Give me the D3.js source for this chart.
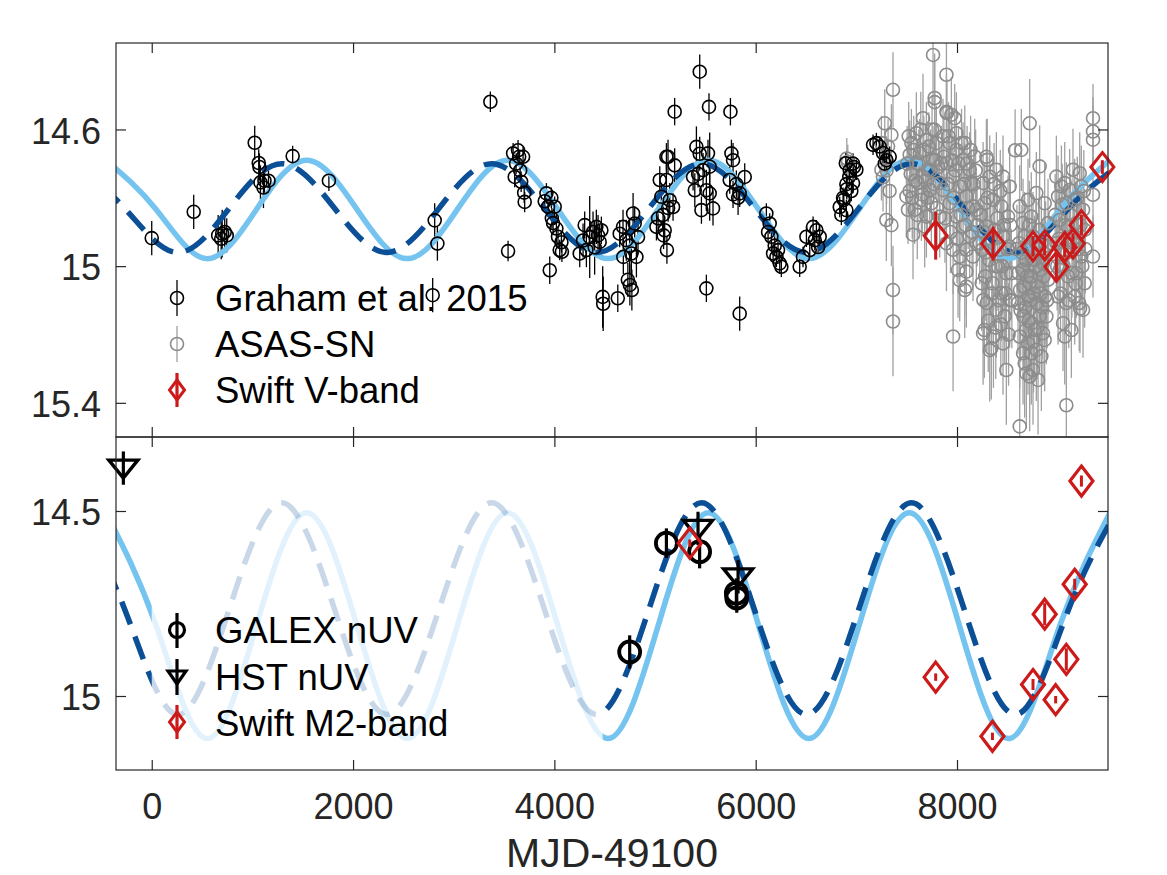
<!DOCTYPE html>
<html>
<head>
<meta charset="utf-8">
<script src="https://cdn.jsdelivr.net/npm/d3@7"></script>
<style>
body { margin: 0; background: #fff; }
text { font-family: "Liberation Sans", Arial, Helvetica, sans-serif; }
</style>
</head>
<body>
<svg id="chart" width="1167" height="875"></svg>
<script>
// ---- data: [MJD-49100, mag, err] ----
var graham = [
 [0,14.918,0.05],[417,14.841,0.05],[660,14.91,0.06],[690,14.92,0.06],[700,14.905,0.07],[725,14.90,0.06],[745,14.91,0.05],
 [1023,14.639,0.05],[1063,14.698,0.04],[1070,14.71,0.04],[1080,14.755,0.05],[1110,14.77,0.06],[1120,14.75,0.04],[1160,14.75,0.03],
 [1400,14.678,0.03],[1760,14.75,0.03],
 [2791,15.085,0.05],[2811,14.866,0.05],[2838,14.934,0.05],
 [3364,14.519,0.03],[3540,14.956,0.03],
 [3590,14.67,0.03],[3606,14.739,0.03],[3620,14.70,0.03],[3639,14.661,0.03],[3650,14.68,0.02],[3660,14.72,0.03],[3670,14.753,0.03],[3689,14.68,0.03],[3700,14.785,0.03],[3705,14.812,0.03],
 [3904,14.81,0.03],[3921,14.787,0.03],[3937,14.826,0.03],[3954,15.012,0.04],[3970,14.80,0.03],[3975,14.86,0.03],[3987,14.874,0.03],[4003,14.826,0.03],[4020,14.89,0.04],[4036,14.914,0.03],[4053,14.953,0.03],[4070,14.93,0.03],[4075,14.958,0.03],
 [4252,14.963,0.04],[4285,14.925,0.05],[4301,14.88,0.04],[4318,14.953,0.05],[4351,14.915,0.12],[4384,14.90,0.06],[4400,14.945,0.08],[4417,14.885,0.05],[4434,14.91,0.06],[4450,14.929,0.05],[4467,14.895,0.04],
 [4480,15.09,0.09],[4485,15.11,0.08],[4630,15.094,0.04],
 [4649,14.905,0.04],[4682,14.885,0.05],[4685,14.973,0.05],[4715,14.924,0.06],[4730,15.04,0.05],[4748,14.94,0.08],[4750,15.055,0.06],[4765,14.963,0.07],[4770,15.07,0.06],[4782,14.846,0.06],[4798,14.875,0.05],[4815,14.973,0.06],[4831,14.915,0.05],
 [5014,14.885,0.04],[5030,14.86,0.04],[5047,14.748,0.04],[5063,14.797,0.04],[5080,14.85,0.05],[5085,14.91,0.04],[5096,14.895,0.04],[5113,14.68,0.04],[5113,14.748,0.05],[5118,14.953,0.04],[5129,14.68,0.05],[5130,14.83,0.04],[5146,14.807,0.05],[5179,14.827,0.04],[5195,14.705,0.05],[5195,14.548,0.04],
 [5378,14.739,0.04],[5395,14.778,0.05],[5411,14.651,0.06],[5428,14.73,0.04],[5444,14.431,0.05],[5444,14.671,0.05],[5461,14.836,0.04],[5477,14.719,0.05],[5510,14.778,0.06],[5510,15.065,0.04],[5526,14.67,0.04],[5536,14.534,0.04],[5543,14.709,0.1],[5543,14.787,0.08],[5576,14.831,0.05],
 [5742,14.748,0.04],[5749,14.548,0.04],[5759,14.67,0.04],[5775,14.69,0.05],[5775,14.79,0.04],[5808,14.76,0.04],[5825,14.80,0.05],[5841,14.787,0.04],[5841,15.139,0.05],[5891,14.739,0.04],
 [6106,14.846,0.03],[6123,14.90,0.03],[6139,14.875,0.03],[6156,14.914,0.03],[6173,14.963,0.03],[6189,14.94,0.03],[6206,14.973,0.03],[6222,14.953,0.03],[6239,14.992,0.03],[6255,15.002,0.03],
 [6437,15.002,0.03],[6470,14.973,0.03],[6504,14.914,0.03],[6537,14.953,0.03],[6570,14.885,0.03],[6587,14.924,0.03],[6603,14.895,0.03],[6620,14.944,0.03],[6636,14.914,0.03],
 [6835,14.827,0.03],[6851,14.85,0.03],[6868,14.80,0.03],[6875,14.806,0.03],[6901,14.76,0.03],[6895,14.699,0.03],[6905,14.775,0.03],[6901,14.836,0.03],[6934,14.719,0.03],[6930,14.738,0.03],[6950,14.78,0.03],[6967,14.70,0.03],[6975,14.71,0.03],[6967,14.757,0.03],[7000,14.718,0.03],
 [7166,14.645,0.03],[7199,14.64,0.03],[7232,14.65,0.03],[7265,14.669,0.03],[7282,14.70,0.03],[7299,14.69,0.03],[7331,14.68,0.03]
];

var asassn = [
 [6905,14.685,0.06],[6915,14.695,0.05],
 [7249,14.64,0.08],[7249,14.718,0.09],[7265,14.74,0.1],[7282,14.582,0.1],[7298,14.865,0.12],[7315,14.65,0.08],[7348,14.616,0.09],[7348,14.88,0.12],[7364,14.484,0.11],[7364,15.07,0.13],[7364,15.162,0.16],[7300,14.72,0.1],[7330,14.78,0.1],
 [7497,14.796,0.12],[7513,14.835,0.1],[7530,14.674,0.1],[7530,14.78,0.12],[7547,14.64,0.1],[7563,14.908,0.13],[7579,14.835,0.1],[7596,14.611,0.12],[7596,14.699,0.1],[7612,14.757,0.11],[7629,14.669,0.1],[7646,14.806,0.12],[7662,14.567,0.13],[7662,14.738,0.1],[7679,14.884,0.12],[7696,14.63,0.11],[7696,14.855,0.12],[7712,14.718,0.1],[7729,14.777,0.11],[7745,14.816,0.12],[7762,14.382,0.15],[7762,14.689,0.1],[7778,14.508,0.13],[7778,14.52,0.12],[7778,14.601,0.1],[7795,14.64,0.11],[7828,14.757,0.12],
 [7505,14.70,0.11],[7520,14.62,0.1],[7540,14.73,0.12],[7555,14.80,0.12],[7570,14.66,0.1],[7585,14.75,0.11],[7605,14.85,0.13],[7620,14.70,0.1],[7640,14.60,0.11],[7655,14.79,0.12],[7670,14.66,0.1],[7688,14.75,0.12],[7705,14.80,0.11],[7720,14.65,0.1],[7738,14.72,0.12],[7752,14.60,0.1],[7770,14.76,0.12],[7785,14.69,0.11],[7800,14.83,0.12],[7815,14.71,0.1],
 [7828,14.855,0.12],[7861,14.62,0.11],[7861,14.777,0.12],[7895,14.44,0.12],[7895,14.548,0.11],[7900,14.552,0.1],[7895,14.699,0.12],[7895,14.933,0.14],[7927,14.64,0.1],[7927,14.816,0.12],[7944,14.557,0.11],[7961,14.738,0.12],[7961,14.952,0.13],[7961,15.206,0.16],[7977,14.567,0.1],[7994,14.611,0.12],[7994,14.66,0.1],[7994,14.855,0.12],[8010,15.011,0.14],[8027,14.767,0.12],[8027,14.972,0.13],[8027,15.041,0.12],[8060,14.689,0.11],[8060,14.884,0.12],[8077,14.64,0.11],[8077,15.07,0.14],[8093,14.796,0.12],[8093,14.952,0.12],[8093,15.016,0.13],[8093,15.06,0.12],[8126,14.718,0.11],[8126,14.913,0.12],[8143,14.757,0.1],[8159,14.825,0.12],[8159,14.972,0.13],[8176,14.679,0.11],[8192,14.933,0.12],[8192,14.835,0.11],
 [7845,14.70,0.11],[7870,14.68,0.12],[7880,14.86,0.13],[7910,14.76,0.11],[7915,14.62,0.1],[7935,14.90,0.12],[7950,14.69,0.11],[7970,14.80,0.12],[7985,14.72,0.1],[8000,14.92,0.13],[8015,14.70,0.11],[8040,14.85,0.12],[8045,14.64,0.1],[8070,14.76,0.12],[8085,14.88,0.13],[8100,14.70,0.11],[8110,14.83,0.12],[8135,14.66,0.1],[8150,14.90,0.13],[8165,14.76,0.11],[8185,14.72,0.12],[8200,14.88,0.12],
 [8226,14.933,0.12],[8259,14.757,0.12],[8250,14.952,0.13],[8262,15.099,0.14],[8259,15.197,0.15],[8275,14.816,0.12],[8280,15.03,0.13],[8272,15.187,0.14],[8292,14.68,0.11],[8300,14.689,0.12],[8292,14.884,0.12],[8295,15.108,0.14],[8325,14.738,0.12],[8320,14.982,0.13],[8325,15.246,0.15],[8341,15.24,0.15],[8358,14.806,0.12],[8352,15.05,0.13],[8362,15.206,0.15],[8374,14.894,0.12],[8391,14.718,0.11],[8391,15.128,0.14],[8408,15.001,0.13],[8424,14.952,0.12],[8441,14.825,0.12],[8441,15.079,0.14],[8457,14.738,0.12],[8457,14.913,0.12],[8457,15.226,0.15],[8474,15.147,0.14],[8490,15.021,0.13],[8490,15.304,0.16],[8507,14.855,0.12],[8523,14.767,0.12],[8518,14.942,0.12],[8523,15.099,0.14],[8540,15.021,0.13],
 [8235,14.85,0.12],[8245,15.05,0.14],[8268,14.90,0.13],[8285,14.96,0.13],[8305,14.80,0.12],[8310,15.16,0.15],[8335,14.92,0.13],[8345,15.08,0.14],[8368,14.76,0.12],[8380,15.00,0.13],[8385,15.18,0.15],[8400,14.86,0.12],[8415,15.10,0.14],[8430,14.78,0.12],[8435,15.17,0.15],[8450,15.00,0.13],[8465,14.88,0.12],[8482,15.08,0.14],[8498,14.95,0.13],[8512,15.20,0.15],[8530,14.88,0.13],[8545,15.10,0.14],
 [8577,14.661,0.12],[8606,15.108,0.15],[8623,14.825,0.12],[8618,14.933,0.13],[8626,15.07,0.14],[8623,15.206,0.15],[8623,15.469,0.16],[8639,14.66,0.12],[8656,14.874,0.13],[8650,15.011,0.14],[8660,15.147,0.15],[8656,15.255,0.15],[8672,14.913,0.13],[8672,15.284,0.16],[8689,14.982,0.13],[8685,15.187,0.15],[8689,15.314,0.16],[8705,14.806,0.12],[8700,14.952,0.13],[8708,15.089,0.14],[8705,15.226,0.15],[8722,14.582,0.13],[8722,15.05,0.14],[8722,15.323,0.16],[8738,14.855,0.13],[8734,15.03,0.14],[8742,15.167,0.15],[8738,15.255,0.15],[8755,14.913,0.13],[8755,15.304,0.16],[8771,14.982,0.13],[8771,15.187,0.15],[8788,14.786,0.12],[8784,14.933,0.13],[8792,15.108,0.14],[8788,15.245,0.15],[8805,15.06,0.14],[8805,15.333,0.16],[8821,14.708,0.12],[8817,14.894,0.13],[8825,15.011,0.14],[8821,15.147,0.15],[8838,14.933,0.13],[8838,15.264,0.16],[8854,14.991,0.13],[8854,15.196,0.15],[8871,14.816,0.12],[8866,14.962,0.13],[8875,15.089,0.14],[8871,15.216,0.15],[8888,15.147,0.14],[8904,14.874,0.13],[8904,15.04,0.14],
 [8595,14.95,0.13],[8610,15.02,0.14],[8632,15.13,0.15],[8645,14.96,0.14],[8665,15.06,0.14],[8680,15.12,0.15],[8695,15.03,0.14],[8712,15.16,0.15],[8718,14.88,0.13],[8730,15.10,0.15],[8748,14.98,0.14],[8760,15.22,0.15],[8765,15.08,0.14],[8780,15.00,0.14],[8798,15.18,0.15],[8810,14.95,0.13],[8830,15.08,0.14],[8845,15.12,0.15],[8860,15.03,0.14],[8880,14.94,0.13],[8895,15.10,0.14],[8910,15.00,0.14],
 [8987,14.738,0.12],[8987,14.933,0.13],[9004,14.796,0.12],[9004,15.089,0.14],[9020,14.865,0.12],[9020,15.011,0.13],[9037,14.767,0.12],[9053,15.167,0.14],[9070,14.757,0.12],[9066,14.952,0.13],[9070,15.206,0.14],[9086,14.816,0.12],[9086,15.108,0.14],[9086,15.407,0.16],[9103,14.884,0.12],[9103,15.03,0.13],[9119,14.777,0.12],[9136,15.187,0.14],[9152,14.718,0.12],[9152,14.933,0.13],[9169,14.806,0.12],[9169,15.089,0.14],[9186,14.874,0.12],[9186,15.021,0.13],[9219,14.728,0.12],[9214,15.108,0.14],[9222,15.124,0.13],[9235,14.767,0.12],[9235,14.972,0.13],[9252,14.835,0.12],[9252,15.128,0.14],[9268,14.894,0.12],[9268,15.05,0.13],
 [8975,14.85,0.12],[8995,15.00,0.13],[9012,14.92,0.13],[9028,15.08,0.14],[9045,14.82,0.12],[9060,15.00,0.13],[9078,14.88,0.12],[9095,14.96,0.13],[9110,15.10,0.14],[9128,14.85,0.12],[9142,15.02,0.13],[9160,14.92,0.13],[9178,15.05,0.14],[9195,14.80,0.12],[9205,14.95,0.13],[9228,14.88,0.12],[9245,15.00,0.13],[9260,14.78,0.12],[9275,14.95,0.13],
 [9351,14.567,0.1],[9351,14.606,0.1],[9351,14.63,0.1],[9351,14.791,0.11],[9351,14.972,0.12]
];

var swiftV = [
 [7788,14.911,0.07],[8358,14.934,0.05],[8755,14.942,0.03],[8871,14.939,0.03],[8987,15.002,0.04],
 [9070,14.944,0.03],[9152,14.934,0.03],[9236,14.88,0.03],[9444,14.71,0.02]
];
var swiftM2 = [
 [5345,14.587,0.01],[7788,14.949,0.01],[8352,15.109,0.01],[8755,14.969,0.015],[8871,14.779,0.03],
 [8980,15.01,0.01],[9086,14.901,0.03],[9169,14.698,0.015],[9236,14.419,0.015]
];
var galex = [[4748,14.881,0.045],[5113,14.587,0.04],[5443,14.61,0.045],[5808,14.722,0.04],[5812,14.735,0.04]];
var hst = [[-282,14.384,0.045],[5427,14.547,0.045],[5825,14.678,0.045]];

// model curves read at extrema / mid points
var solidT = [-455,44,543,1040,1540,2039,2538,3036,3535,4034,4533,5031,5530,6029,6528,7026,7525,8024,8523,9021,9520];
var dashT  = [-792,-271,250,771,1292,1814,2335,2856,3377,3899,4420,4941,5462,5984,6505,7026,7547,8069,8590,9111,9632];
var topSolidMag = [14.690,14.834,14.978,14.834,14.690,14.834,14.978,14.834,14.690,14.834,14.978,14.834,14.690,14.834,14.978,14.834,14.690,14.834,14.978,14.834,14.690];
var topDashMag  = [14.700,14.830,14.960,14.830,14.700,14.830,14.960,14.830,14.700,14.830,14.960,14.830,14.700,14.830,14.960,14.830,14.700,14.830,14.960,14.830,14.700];
var botSolidMag = [14.505,14.810,15.115,14.810,14.505,14.810,15.115,14.810,14.505,14.810,15.115,14.810,14.505,14.810,15.115,14.810,14.505,14.810,15.115,14.810,14.505];
var botDashMag  = [14.478,14.764,15.050,14.764,14.478,14.764,15.050,14.764,14.478,14.764,15.050,14.764,14.478,14.764,15.050,14.764,14.478,14.764,15.050,14.764,14.478];
var brightRanges = [[-355, 0], [4480, 9500]];

var xTicks = [0, 2000, 4000, 6000, 8000];
var yTopTicks = [14.6, 15, 15.4];
var yBotTicks = [14.5, 15];

// ---- layout ----
var left = 116, right = 1108, top1 = 43, mid = 437, bot = 770;
var red = "#cc1a1a", lightBlue = "#75c4f0", darkBlue = "#0b4f96", axisCol = "#262626";
var dash = "24,13", lw = 5.5;

var svg = d3.select("#chart");
var x = d3.scaleLinear().domain([-355, 9500]).range([left, right]);
var yTop = d3.scaleLinear().domain([14.347, 15.5]).range([top1, mid]);
var yBot = d3.scaleLinear().domain([14.3, 15.2]).range([mid, bot]);

var defs = svg.append("defs");
defs.append("clipPath").attr("id", "clipTop").append("rect")
    .attr("x", left).attr("y", top1).attr("width", right - left).attr("height", mid - top1);
defs.append("clipPath").attr("id", "clipBot").append("rect")
    .attr("x", left).attr("y", mid).attr("width", right - left).attr("height", bot - mid);
var cb = defs.append("clipPath").attr("id", "clipBright");
brightRanges.forEach(function(r) {
    cb.append("rect").attr("x", x(r[0])).attr("y", mid)
      .attr("width", x(r[1]) - x(r[0])).attr("height", bot - mid);
});

function zip(t, m) { return t.map(function(v, i) { return [v, m[i]]; }); }
function lineFor(yS) {
    return d3.line().x(function(d) { return x(d[0]); }).y(function(d) { return yS(d[1]); }).curve(d3.curveNatural);
}

var diamond = function(w, h) { return "M0," + (-h) + "L" + w + ",0L0," + h + "L" + (-w) + ",0Z"; };
var triDown = function(w, a, b) { return "M" + (-w) + "," + (-a) + "L" + w + "," + (-a) + "L0," + b + "Z"; };

function errBars(g, data, yS, color, width) {
    g.selectAll(null).data(data).enter().append("line")
        .attr("x1", function(d) { return x(d[0]); }).attr("x2", function(d) { return x(d[0]); })
        .attr("y1", function(d) { return yS(d[1] - d[2]); }).attr("y2", function(d) { return yS(d[1] + d[2]); })
        .attr("stroke", color).attr("stroke-width", width);
}

// ---- top panel ----
var gT = svg.append("g");
var gTclip = gT.append("g").attr("clip-path", "url(#clipTop)");
errBars(gTclip, asassn, yTop, "#a0a0a0", 1.3);
gT.selectAll(".asas").data(asassn).enter().append("circle")
    .attr("cx", function(d) { return x(d[0]); }).attr("cy", function(d) { return yTop(d[1]); })
    .attr("r", 6.5).attr("fill", "none").attr("stroke", "#8c8c8c").attr("stroke-width", 1.6);
errBars(gTclip, graham, yTop, "#000", 1.3);
gT.selectAll(".gra").data(graham).enter().append("circle")
    .attr("cx", function(d) { return x(d[0]); }).attr("cy", function(d) { return yTop(d[1]); })
    .attr("r", 6.5).attr("fill", "none").attr("stroke", "#000").attr("stroke-width", 1.6);

var lt = lineFor(yTop);
gTclip.append("path").attr("d", lt(zip(solidT, topSolidMag)))
    .attr("fill", "none").attr("stroke", lightBlue).attr("stroke-width", lw);
gTclip.append("path").attr("d", lt(zip(dashT, topDashMag)))
    .attr("fill", "none").attr("stroke", darkBlue).attr("stroke-width", lw).attr("stroke-dasharray", dash);

errBars(gT, swiftV, yTop, red, 3);
gT.selectAll(".sv").data(swiftV).enter().append("path")
    .attr("transform", function(d) { return "translate(" + x(d[0]) + "," + yTop(d[1]) + ")"; })
    .attr("d", diamond(11.5, 14.5)).attr("fill", "none").attr("stroke", red).attr("stroke-width", 3);

// ---- bottom panel ----
var gB = svg.append("g");
var gBclip = gB.append("g").attr("clip-path", "url(#clipBot)");
var lb = lineFor(yBot);
var solidB = lb(zip(solidT, botSolidMag)), dashB = lb(zip(dashT, botDashMag));
gBclip.append("path").attr("d", solidB).attr("fill", "none").attr("stroke", lightBlue)
    .attr("stroke-width", lw).attr("opacity", 0.22);
gBclip.append("path").attr("d", dashB).attr("fill", "none").attr("stroke", darkBlue)
    .attr("stroke-width", lw).attr("stroke-dasharray", dash).attr("opacity", 0.22);
var gBright = gB.append("g").attr("clip-path", "url(#clipBright)");
gBright.append("path").attr("d", solidB).attr("fill", "none").attr("stroke", lightBlue).attr("stroke-width", lw);
gBright.append("path").attr("d", dashB).attr("fill", "none").attr("stroke", darkBlue)
    .attr("stroke-width", lw).attr("stroke-dasharray", dash);

errBars(gB, galex, yBot, "#000", 3.2);
gB.selectAll(".gx").data(galex).enter().append("circle")
    .attr("cx", function(d) { return x(d[0]); }).attr("cy", function(d) { return yBot(d[1]); })
    .attr("r", 10.5).attr("fill", "none").attr("stroke", "#000").attr("stroke-width", 3.8);
errBars(gB, hst, yBot, "#000", 3.2);
gB.selectAll(".hs").data(hst).enter().append("path")
    .attr("transform", function(d) { return "translate(" + x(d[0]) + "," + yBot(d[1]) + ")"; })
    .attr("d", triDown(14.5, 8, 10)).attr("fill", "none").attr("stroke", "#000").attr("stroke-width", 3.4);
errBars(gB, swiftM2, yBot, red, 3);
gB.selectAll(".sm").data(swiftM2).enter().append("path")
    .attr("transform", function(d) { return "translate(" + x(d[0]) + "," + yBot(d[1]) + ")"; })
    .attr("d", diamond(11.5, 15)).attr("fill", "none").attr("stroke", red).attr("stroke-width", 3.2);

// ---- axes ----
function styleAxis(g) {
    g.select(".domain").remove();
    g.selectAll(".tick line").attr("stroke", axisCol).attr("stroke-width", 1.2);
    g.selectAll("text").attr("fill", axisCol).style("font-size", "36px");
}
svg.append("g").attr("transform", "translate(" + left + ",0)")
    .call(d3.axisLeft(yTop).tickValues(yTopTicks).tickSize(-10).tickPadding(15).tickFormat(d3.format("")))
    .call(styleAxis).selectAll("text").attr("dy", "0.38em");
svg.append("g").attr("transform", "translate(" + right + ",0)")
    .call(d3.axisRight(yTop).tickValues(yTopTicks).tickSize(-10).tickFormat(""))
    .call(styleAxis);
svg.append("g").attr("transform", "translate(" + left + ",0)")
    .call(d3.axisLeft(yBot).tickValues(yBotTicks).tickSize(-10).tickPadding(15).tickFormat(d3.format("")))
    .call(styleAxis).selectAll("text").attr("dy", "0.38em");
svg.append("g").attr("transform", "translate(" + right + ",0)")
    .call(d3.axisRight(yBot).tickValues(yBotTicks).tickSize(-10).tickFormat(""))
    .call(styleAxis);
svg.append("g").attr("transform", "translate(0," + top1 + ")")
    .call(d3.axisTop(x).tickValues(xTicks).tickSize(-10).tickFormat("")).call(styleAxis);
svg.append("g").attr("transform", "translate(0," + mid + ")")
    .call(d3.axisBottom(x).tickValues(xTicks).tickSize(-10).tickFormat("")).call(styleAxis);
svg.append("g").attr("transform", "translate(0," + mid + ")")
    .call(d3.axisTop(x).tickValues(xTicks).tickSize(-10).tickFormat("")).call(styleAxis);
svg.append("g").attr("transform", "translate(0," + bot + ")")
    .call(d3.axisBottom(x).tickValues(xTicks).tickSize(-10).tickPadding(23).tickFormat(d3.format("")))
    .call(styleAxis);

svg.append("rect").attr("x", left).attr("y", top1).attr("width", right - left).attr("height", mid - top1)
    .attr("fill", "none").attr("stroke", axisCol).attr("stroke-width", 1.2);
svg.append("rect").attr("x", left).attr("y", mid).attr("width", right - left).attr("height", bot - mid)
    .attr("fill", "none").attr("stroke", axisCol).attr("stroke-width", 1.2);

svg.append("text").attr("x", (left + right) / 2).attr("y", 867).attr("text-anchor", "middle")
    .attr("fill", axisCol).style("font-size", "41px").text("MJD-49100");

// ---- legends ----
var lx = 177, tx = 215;
var leg = svg.append("g").style("font-size", "36.5px");
// top
leg.append("line").attr("x1", lx).attr("x2", lx).attr("y1", 280).attr("y2", 316).attr("stroke", "#000").attr("stroke-width", 1.3);
leg.append("circle").attr("cx", lx).attr("cy", 298).attr("r", 6.5).attr("fill", "none").attr("stroke", "#000").attr("stroke-width", 1.6);
leg.append("text").attr("x", tx).attr("y", 311).text("Graham et al. 2015");
leg.append("line").attr("x1", lx).attr("x2", lx).attr("y1", 326).attr("y2", 362).attr("stroke", "#a0a0a0").attr("stroke-width", 1.3);
leg.append("circle").attr("cx", lx).attr("cy", 344).attr("r", 6.5).attr("fill", "none").attr("stroke", "#8c8c8c").attr("stroke-width", 1.6);
leg.append("text").attr("x", tx).attr("y", 357).text("ASAS-SN");
leg.append("line").attr("x1", lx).attr("x2", lx).attr("y1", 373).attr("y2", 407).attr("stroke", red).attr("stroke-width", 3.2);
leg.append("path").attr("transform", "translate(" + lx + ",390)").attr("d", diamond(7.5, 10))
    .attr("fill", "none").attr("stroke", red).attr("stroke-width", 3);
leg.append("text").attr("x", tx).attr("y", 403).text("Swift V-band");
// bottom
leg.append("line").attr("x1", lx).attr("x2", lx).attr("y1", 613).attr("y2", 648).attr("stroke", "#000").attr("stroke-width", 3.2);
leg.append("circle").attr("cx", lx).attr("cy", 630).attr("r", 7.5).attr("fill", "none").attr("stroke", "#000").attr("stroke-width", 3.2);
leg.append("text").attr("x", tx).attr("y", 643).text("GALEX nUV");
leg.append("line").attr("x1", lx).attr("x2", lx).attr("y1", 659).attr("y2", 695).attr("stroke", "#000").attr("stroke-width", 3.2);
leg.append("path").attr("transform", "translate(" + lx + ",676)").attr("d", triDown(9, 5, 8))
    .attr("fill", "none").attr("stroke", "#000").attr("stroke-width", 3.2);
leg.append("text").attr("x", tx).attr("y", 690).text("HST nUV");
leg.append("line").attr("x1", lx).attr("x2", lx).attr("y1", 705).attr("y2", 739).attr("stroke", red).attr("stroke-width", 3.2);
leg.append("path").attr("transform", "translate(" + lx + ",722)").attr("d", diamond(7.5, 10))
    .attr("fill", "none").attr("stroke", red).attr("stroke-width", 3);
leg.append("text").attr("x", tx).attr("y", 736).text("Swift M2-band");
</script>
</body>
</html>
